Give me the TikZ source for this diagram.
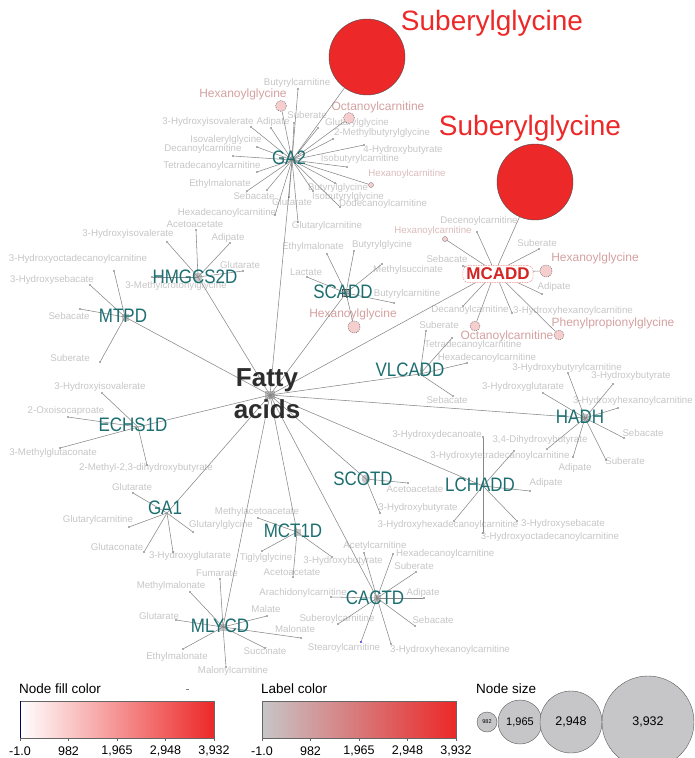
\documentclass[tikz,border=0pt]{standalone}
\usepackage{fontspec}
\setmainfont{Liberation Sans}
\newfontfamily\condsf[FakeStretch=0.87]{Liberation Sans}
\definecolor{hubc}{RGB}{28,110,112}
\definecolor{leafc}{RGB}{198,198,198}
\definecolor{pinkl}{RGB}{212,160,160}
\definecolor{lpink}{RGB}{220,188,188}
\definecolor{pinkf}{RGB}{246,206,206}
\definecolor{redc}{RGB}{236,40,40}
\definecolor{edgec}{RGB}{135,135,135}
\definecolor{fac}{RGB}{45,45,45}
\definecolor{lgray}{RGB}{198,198,200}
\pgfdeclarelayer{bg}
\pgfdeclarelayer{fg}
\pgfsetlayers{bg,main,fg}
\newcommand\leafn[5]{%
 \node[dot] (#2) at (#3) {};
 \begin{pgfonlayer}{bg}\node[lbl] (#2t) at (#4) {#5};\end{pgfonlayer}
 \draw[edge] (#1) -- (#2);}
\newcommand\leafx[7]{%
 \node[#1] (#4) at (#5) {};
 \begin{pgfonlayer}{bg}\node[lbl,#2] (#4t) at (#6) {#7};\end{pgfonlayer}
 \draw[edge] (#3) -- (#4);}
\newcommand\pinkleaf[6]{%
 \node[pcirc,minimum size=#4pt] (#2) at (#3) {};
 \begin{pgfonlayer}{bg}\node[plbl] (#2t) at (#5) {#6};\end{pgfonlayer}
 \draw[edge] (#1) -- (#2);}
\begin{document}
\begin{tikzpicture}[x=1pt,y=-1pt,
 edge/.style={draw=edgec,line width=0.55pt},
 dot/.style={circle,fill=black!65,inner sep=0pt,minimum size=1.8pt},
 spdot/.style={circle,fill=pinkf,draw=black!55,line width=0.3pt,inner sep=0pt,minimum size=5pt},
 bdot/.style={circle,fill=blue!60!gray,inner sep=0pt,minimum size=2.2pt},
 lbl/.style={text=leafc,font=\fontsize{9.7}{10}\selectfont,inner sep=0pt},
 plbl/.style={text=pinkl,font=\fontsize{12}{13}\selectfont,inner sep=0pt},
 pcirc/.style={circle,fill=pinkf,draw=black!60,dash pattern=on 1pt off 1pt,line width=0.45pt,inner sep=0pt},
 hublbl/.style={text=hubc,font=\condsf\fontsize{19.5}{20}\selectfont,inner sep=0pt},
 hubsq/.style={rectangle,fill=black!22,inner sep=0pt,minimum size=7pt},
 hubci/.style={circle,fill=black!22,inner sep=0pt,minimum size=9pt},
 bigred/.style={circle,fill=redc,draw=black!70,line width=0.4pt,inner sep=0pt,minimum size=76pt},
 redlbl/.style={text=redc,font=\fontsize{28}{30}\selectfont,inner sep=0pt},
 legt/.style={font=\fontsize{13.5}{15}\selectfont,inner sep=0pt,anchor=west},
 tickl/.style={font=\fontsize{12.5}{14}\selectfont,inner sep=0pt}]
\useasboundingbox (0,0) rectangle (694,758);

% hub positions
\coordinate (fa) at (270,395);
\coordinate (ga2) at (292,160);
\coordinate (mcadd) at (495,272);
\coordinate (hmg) at (198,277);
\coordinate (mtpd) at (125,317);
\coordinate (scadd) at (346,293);
\coordinate (vlcadd) at (420,374);
\coordinate (hadh) at (585,418);
\coordinate (echs) at (138,427);
\coordinate (ga1) at (167,513);
\coordinate (scotd) at (366,479);
\coordinate (lchadd) at (483,486);
\coordinate (mct) at (297,532);
\coordinate (mlycd) at (223,627);
\coordinate (cactd) at (377,598);

% hub markers
\node[hubsq,minimum width=10pt,minimum height=8pt,fill=black!25] (fasq) at (fa) {};
\node[hubci] (hmgm) at (hmg) {};
\node[hubsq] (mtpdm) at (mtpd) {};
\node[hubsq,draw=black!70,line width=0.5pt] (scaddm) at (scadd) {};
\node[hubci] (hadhm) at (hadh) {};
\node[hubci] (scotdm) at (scotd) {};
\node[hubsq] (mctm) at (mct) {};
\node[hubsq] (mlycdm) at (mlycd) {};
\node[hubsq] (cactdm) at (cactd) {};

% edges from fatty acids
\foreach \h in {ga2,mcadd,hmg,mtpd,scadd,vlcadd,hadh,echs,ga1,scotd,lchadd,mct,mlycd,cactd}
  \draw[edge] (fa) -- (\h);

% Suberylglycine
\node[bigred] (sub1) at (367,57) {};
\node[redlbl] (sub1t) at (492,23) {Suberylglycine};
\draw[edge] (ga2) -- (sub1);
\node[bigred] (sub2) at (535,182) {};
\node[redlbl] (sub2t) at (530,128) {Suberylglycine};
\draw[edge] (mcadd) -- (sub2);

% GA2
\leafn{ga2}{g1}{298,89}{297,83}{Butyrylcarnitine}
\leafn{ga2}{g2}{294,123}{307,115}{Suberate}
\leafn{ga2}{g3}{318,128}{357,123}{Glutarylglycine}
\leafn{ga2}{g4}{251,127}{208,122}{3-Hydroxyisovalerate}
\leafn{ga2}{g5}{271,128}{273,122}{Adipate}
\leafn{ga2}{g6}{333,139}{382,133}{2-Methylbutyrylglycine}
\leafn{ga2}{g7}{257,147}{226,140}{Isovalerylglycine}
\leafn{ga2}{g8}{233,156}{203,149}{Decanoylcarnitine}
\leafn{ga2}{g9}{364,145}{403,150}{4-Hydroxybutyrate}
\leafn{ga2}{g10}{257,172}{212,166}{Tetradecanoylcarnitine}
\leafn{ga2}{g11}{347,167}{360,159}{Isobutyrylcarnitine}
\leafx{spdot}{text=lpink}{ga2}{g12}{371,185}{407,174}{Hexanoylcarnitine}
\leafn{ga2}{g13}{247,191}{220,184}{Ethylmalonate}
\leafn{ga2}{g14}{335,183}{338,188}{Butyrylglycine}
\leafn{ga2}{g15}{267,190}{254,196}{Sebacate}
\leafn{ga2}{g16}{313,191}{348,197}{Isobutyrylglycine}
\leafn{ga2}{g17}{289,197}{292,202}{Glutarate}
\leafn{ga2}{g18}{340,207}{383,204}{Dodecanoylcarnitine}
\leafn{ga2}{g19}{275,215}{227,213}{Hexadecanoylcarnitine}
\leafn{ga2}{g20}{298,222}{327,226}{Glutarylcarnitine}
\pinkleaf{ga2}{g21}{281,106}{11}{243,94}{Hexanoylglycine}
\pinkleaf{ga2}{g22}{349,118}{11}{378,107}{Octanoylcarnitine}

% MCADD
\leafn{mcadd}{m1}{477,232}{479,221}{Decenoylcarnitine}
\leafx{spdot}{text=lpink}{mcadd}{m2}{445,239}{433,231}{Hexanoylcarnitine}
\leafn{mcadd}{m3}{539,249}{537,243}{Suberate}
\leafn{mcadd}{m4}{463,266}{447,259}{Sebacate}
\leafn{mcadd}{m5}{542,294}{554,287}{Adipate}
\leafn{mcadd}{m6}{463,306}{470,310}{Decanoylcarnitine}
\leafn{mcadd}{m7}{512,313}{573,311}{3-Hydroxyhexanoylcarnitine}
\pinkleaf{mcadd}{m8}{546,271}{12}{595,258}{Hexanoylglycine}
\pinkleaf{mcadd}{m9}{475,326}{10}{507,336}{Octanoylcarnitine}
\pinkleaf{mcadd}{m10}{559,335}{10}{613,323}{Phenylpropionylglycine}

% HMGCS2D
\leafn{hmg}{h1}{196,230}{195,224}{Acetoacetate}
\leafn{hmg}{h2}{167,242}{128,234}{3-Hydroxyisovalerate}
\leafn{hmg}{h3}{230,243}{228,238}{Adipate}
\leafn{hmg}{h4}{243,271}{240,265}{Glutarate}
\leafn{hmg}{h5}{152,277}{176,286}{3-Methylcrotonylglycine}

% MTPD
\leafn{mtpd}{t1}{114,271}{78,259}{3-Hydroxyoctadecanoylcarnitine}
\leafn{mtpd}{t2}{90,285}{52,280}{3-Hydroxysebacate}
\leafn{mtpd}{t3}{80,309}{69,316}{Sebacate}
\leafn{mtpd}{t4}{100,362}{70,358}{Suberate}

% SCADD
\leafn{scadd}{s1}{327,254}{313,247}{Ethylmalonate}
\leafn{scadd}{s2}{354,251}{382,245}{Butyrylglycine}
\leafn{scadd}{s3}{307,277}{306,272}{Lactate}
\leafn{scadd}{s4}{382,264}{408,270}{Methylsuccinate}
\leafn{scadd}{s5}{394,303}{407,294}{Butyrylcarnitine}
\pinkleaf{scadd}{s6}{354,327}{12}{353,314}{Hexanoylglycine}

% VLCADD
\leafn{vlcadd}{v1}{426,331}{439,325}{Suberate}
\leafn{vlcadd}{v2}{452,338}{473,345}{Tetradecanoylcarnitine}
\leafn{vlcadd}{v3}{467,363}{487,358}{Hexadecanoylcarnitine}
\leafn{vlcadd}{v4}{453,396}{447,400}{Sebacate}

% HADH
\leafn{hadh}{a1}{568,373}{567,368}{3-Hydroxybutyrylcarnitine}
\leafn{hadh}{a2}{613,384}{631,376}{3-Hydroxybutyrate}
\leafn{hadh}{a3}{543,393}{523,387}{3-Hydroxyglutarate}
\leafx{dot}{anchor=east}{hadh}{a4}{618,408}{693,401}{3-Hydroxyhexanoylcarnitine}
\leafn{hadh}{a5}{624,438}{643,433}{Sebacate}
\leafn{hadh}{a6}{547,449}{540,440}{3,4-Dihydroxybutyrate}
\leafn{hadh}{a7}{573,457}{575,468}{Adipate}
\leafn{hadh}{a8}{606,460}{625,461}{Suberate}

% LCHADD
\leafn{lchadd}{l1}{483,437}{437,435}{3-Hydroxydecanoate}
\leafn{lchadd}{l2}{514,451}{500,456}{3-Hydroxytetradecanoylcarnitine}
\leafn{lchadd}{l3}{530,491}{546,483}{Adipate}
\leafn{lchadd}{l4}{454,521}{448,525}{3-Hydroxyhexadecanoylcarnitine}
\leafn{lchadd}{l5}{517,521}{563,524}{3-Hydroxysebacate}
\leafn{lchadd}{l6}{483,533}{550,537}{3-Hydroxyoctadecanoylcarnitine}

% SCOTD
\leafn{scotd}{c1}{408,483}{415,489}{Acetoacetate}
\leafn{scotd}{c2}{380,513}{418,508}{3-Hydroxybutyrate}

% ECHS1D
\leafn{echs}{e1}{102,393}{100,387}{3-Hydroxyisovalerate}
\leafn{echs}{e2}{68,417}{66,411}{2-Oxoisocaproate}
\leafn{echs}{e3}{60,448}{53,453}{3-Methylglutaconate}
\leafn{echs}{e4}{147,465}{146,468}{2-Methyl-2,3-dihydroxybutyrate}

% GA1
\leafn{ga1}{b1}{133,493}{132,487}{Glutarate}
\leafn{ga1}{b2}{129,527}{98,520}{Glutarylcarnitine}
\leafn{ga1}{b3}{193,532}{221,525}{Glutarylglycine}
\leafn{ga1}{b4}{144,552}{117,547}{Glutaconate}
\leafn{ga1}{b5}{173,552}{190,556}{3-Hydroxyglutarate}

% MCT1D
\leafn{mct}{k1}{258,518}{257,512}{Methylacetoacetate}
\leafn{mct}{k2}{262,551}{266,558}{Tiglylglycine}
\leafn{mct}{k3}{293,577}{292,572}{Acetoacetate}
\leafn{mct}{k4}{332,557}{343,561}{3-Hydroxybutyrate}

% MLYCD
\leafn{mlycd}{y1}{220,579}{217,573}{Fumarate}
\leafn{mlycd}{y2}{190,592}{171,586}{Methylmalonate}
\leafn{mlycd}{y3}{176,620}{159,616}{Glutarate}
\leafn{mlycd}{y4}{267,616}{266,609}{Malate}
\leafn{mlycd}{y5}{301,638}{295,629}{Malonate}
\leafn{mlycd}{y6}{265,648}{265,651}{Succinate}
\leafn{mlycd}{y7}{183,649}{177,657}{Ethylmalonate}
\leafn{mlycd}{y8}{226,667}{233,671}{Malonylcarnitine}

% CACTD
\leafn{cactd}{d1}{364,553}{375,546}{Acetylcarnitine}
\leafx{dot}{anchor=west}{cactd}{d2}{393,554}{396,554}{Hexadecanoylcarnitine}
\leafn{cactd}{d3}{416,572}{414,566}{Suberate}
\leafn{cactd}{d4}{331,597}{303,593}{Arachidonylcarnitine}
\leafn{cactd}{d5}{424,598}{423,593}{Adipate}
\leafn{cactd}{d6}{338,624}{337,619}{Suberoylcarnitine}
\leafn{cactd}{d7}{415,626}{433,620}{Sebacate}
\leafx{bdot}{}{cactd}{d8}{361,642}{344,648}{Stearoylcarnitine}
\leafx{dot}{anchor=west}{cactd}{d9}{391,644}{390,650}{3-Hydroxyhexanoylcarnitine}

% hub labels
\begin{pgfonlayer}{fg}
\node[text=fac,font=\bfseries\fontsize{26}{32}\selectfont,align=center,inner sep=0pt] (fat) at (267,394) {Fatty\\acids};
\node[hublbl] (ga2t) at (289,158) {GA2};
\node[draw=redc!55,dash pattern=on 1.5pt off 1pt,line width=0.5pt,rounded corners=6pt,fill=white,text=redc!90!black,font=\bfseries\fontsize{17}{18}\selectfont,inner xsep=3.5pt,inner ysep=2.5pt] (mcaddt) at (498,274) {MCADD};
\node[hublbl] (hmgt) at (195,277) {HMGCS2D};
\node[hublbl] (mtpdt) at (123,316) {MTPD};
\node[hublbl] (scaddt) at (343,292) {SCADD};
\node[hublbl] (vlcaddt) at (410,370) {VLCADD};
\node[hublbl] (hadht) at (580,417) {HADH};
\node[hublbl] (echst) at (133,425) {ECHS1D};
\node[hublbl] (ga1t) at (165,508) {GA1};
\node[hublbl] (scotdt) at (363,479) {SCOTD};
\node[hublbl] (lchaddt) at (480,485) {LCHADD};
\node[hublbl] (mctt) at (293,531) {MCT1D};
\node[hublbl] (mlycdt) at (220,626) {MLYCD};
\node[hublbl] (cactdt) at (375,598) {CACTD};
\end{pgfonlayer}

% legend
\node[legt] (lg1) at (19,689) {Node fill color};
\shade[left color=white,right color=redc] (20,701) rectangle (214,738);
\draw[black!60,line width=0.4pt] (20,701) rectangle (214,738);
\draw[blue!40!black,line width=0.8pt] (20,701) -- (20,738);
\foreach \x/\t [count=\i] in {20/-1.0,68.5/982,117/{1,965},165.5/{2,948},214/{3,932}} {
  \draw[black!60,line width=0.4pt] (\x,738) -- (\x,741);
  \node[tickl] (ta\i) at (\x,751) {\t};
}
\draw[black!50,line width=0.5pt] (186,689) -- (189,689);
\node[legt] (lg2) at (261,689) {Label color};
\shade[left color=lgray,right color=redc] (262,701) rectangle (456,738);
\draw[black!60,line width=0.4pt] (262,701) rectangle (456,738);
\foreach \x/\t [count=\i] in {262/-1.0,310.5/982,359/{1,965},407.5/{2,948},456/{3,932}} {
  \draw[black!60,line width=0.4pt] (\x,738) -- (\x,741);
  \node[tickl] (tb\i) at (\x,751) {\t};
}
\node[legt] (lg3) at (476,689) {Node size};
\node[circle,fill=lgray,draw=black!65,line width=0.4pt,minimum size=20pt,inner sep=0pt,font=\fontsize{5.5}{6}\selectfont] (ns1) at (487,722) {982};
\node[circle,fill=lgray,draw=black!65,line width=0.4pt,minimum size=44pt,inner sep=0pt,font=\fontsize{11}{12}\selectfont] (ns2) at (520,722) {1,965};
\node[circle,fill=lgray,draw=black!65,line width=0.4pt,minimum size=62pt,inner sep=0pt,font=\fontsize{12.5}{14}\selectfont] (ns3) at (571,722) {2,948};
\node[circle,fill=lgray,draw=black!65,line width=0.4pt,minimum size=92pt,inner sep=0pt,font=\fontsize{12.5}{14}\selectfont] (ns4) at (648,722) {3,932};
\end{tikzpicture}
\end{document}
